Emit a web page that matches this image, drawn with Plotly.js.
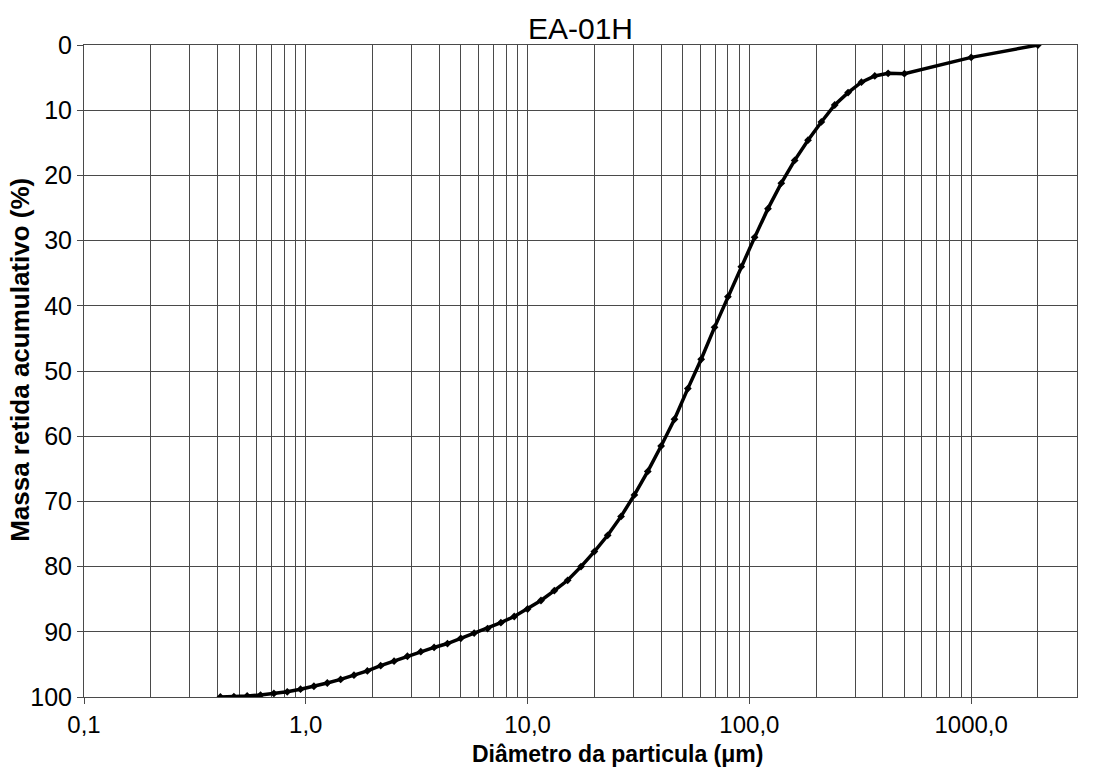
<!DOCTYPE html>
<html>
<head>
<meta charset="utf-8">
<script src="https://cdn.plot.ly/plotly-3.0.1.min.js"></script>
<style>
html,body{margin:0;padding:0;background:#fff;}
#chart{width:1108px;height:767px;}
</style>
</head>
<body>
<div id="chart"></div>
<script>
// Particle diameter (µm)
const diameters = [
  0.412, 0.474, 0.544, 0.625, 0.718, 0.825, 0.947, 1.088, 1.25, 1.436,
  1.649, 1.895, 2.176, 2.5, 2.872, 3.299, 3.789, 4.353, 5.0, 5.743,
  6.598, 7.579, 8.706, 10.0, 11.49, 13.2, 15.16, 17.41, 20.0, 22.97,
  26.39, 30.31, 34.82, 40.0, 45.95, 52.78, 60.63, 69.64, 80.0, 91.9,
  105.6, 121.3, 139.3, 160.0, 183.8, 211.1, 242.5, 278.6, 320.0, 367.6,
  422.2, 500, 1000, 2000
];
// Cumulative retained mass (%)
const massRetained = [
  100.0, 99.95, 99.85, 99.7, 99.45, 99.2, 98.8, 98.35, 97.85, 97.3,
  96.65, 96.0, 95.2, 94.5, 93.75, 93.05, 92.4, 91.8, 91.0, 90.2,
  89.5, 88.6, 87.65, 86.5, 85.2, 83.7, 82.1, 80.0, 77.7, 75.2,
  72.3, 69.0, 65.4, 61.5, 57.4, 52.7, 48.2, 43.3, 38.6, 34.0,
  29.5, 25.1, 21.2, 17.7, 14.6, 11.8, 9.2, 7.3, 5.7, 4.75,
  4.35, 4.4, 1.9, 0.0
];
const xTickVals = [0.1, 1, 10, 100, 1000];
const xTickText = ["0,1", "1,0", "10,0", "100,0", "1000,0"];
const yTickVals = [0, 10, 20, 30, 40, 50, 60, 70, 80, 90, 100];

const chartTitle = "EA-01H";
const xTitle = "Diâmetro da particula (μm)";
const yTitle = "Massa retida acumulativo (%)";

// minor grid at 2..9 of each decade
const minorVals = [];
for (const dec of [0.1, 1, 10, 100, 1000]) {
  for (let m = 2; m <= 9; m++) {
    const v = +(dec * m).toPrecision(3);
    if (v <= 3000) minorVals.push(v);
  }
}

const FONT = "Liberation Sans, Arial, Helvetica, sans-serif";
const gridCol = "#4a4a4a";

const trace = {
  x: diameters,
  y: massRetained,
  type: "scatter",
  mode: "lines+markers",
  line: {color: "#000", width: 3.5},
  marker: {symbol: "diamond", size: 6, color: "#000"},
  hoverinfo: "x+y"
};

const layout = {
  width: 1108,
  height: 767,
  paper_bgcolor: "#fff",
  plot_bgcolor: "#fff",
  margin: {l: 84, r: 31, t: 45, b: 70, pad: 0},
  showlegend: false,
  font: {family: FONT, color: "#000"},
  title: {
    text: chartTitle,
    font: {family: FONT, size: 30, color: "#000"},
    x: 0.5, xref: "paper", xanchor: "center",
    y: 0.963, yref: "container", yanchor: "middle"
  },
  xaxis: {
    type: "log",
    range: [-1, Math.log10(3000)],
    tickmode: "array",
    tickvals: xTickVals,
    ticktext: xTickText,
    ticks: "outside",
    ticklen: 6,
    tickwidth: 1,
    tickcolor: gridCol,
    tickfont: {family: FONT, size: 24, color: "#000"},
    showgrid: true,
    gridcolor: gridCol,
    gridwidth: 1,
    minor: {
      tickmode: "array",
      tickvals: minorVals,
      showgrid: true,
      gridcolor: gridCol,
      gridwidth: 1,
      ticks: ""
    },
    showline: true,
    linecolor: gridCol,
    linewidth: 1,
    mirror: true,
    zeroline: false
  },
  yaxis: {
    range: [100, 0],
    tickmode: "array",
    tickvals: yTickVals,
    ticks: "outside",
    ticklen: 6,
    tickwidth: 1,
    tickcolor: gridCol,
    tickfont: {family: FONT, size: 25, color: "#000"},
    showgrid: true,
    gridcolor: gridCol,
    gridwidth: 1,
    showline: true,
    linecolor: gridCol,
    linewidth: 1,
    mirror: true,
    zeroline: false
  },
  annotations: [
    {
      text: "<b>" + xTitle + "</b>",
      xref: "paper", yref: "paper",
      x: 0.537, y: -0.0875,
      xanchor: "center", yanchor: "middle",
      showarrow: false,
      font: {family: FONT, size: 23, color: "#000"}
    },
    {
      text: "<b>" + yTitle + "</b>",
      xref: "paper", yref: "paper",
      x: -0.0645, y: 0.517,
      xanchor: "center", yanchor: "middle",
      textangle: -90,
      showarrow: false,
      font: {family: FONT, size: 26, color: "#000"}
    }
  ]
};

Plotly.newPlot("chart", [trace], layout, {displayModeBar: false, staticPlot: true});
</script>
</body>
</html>
